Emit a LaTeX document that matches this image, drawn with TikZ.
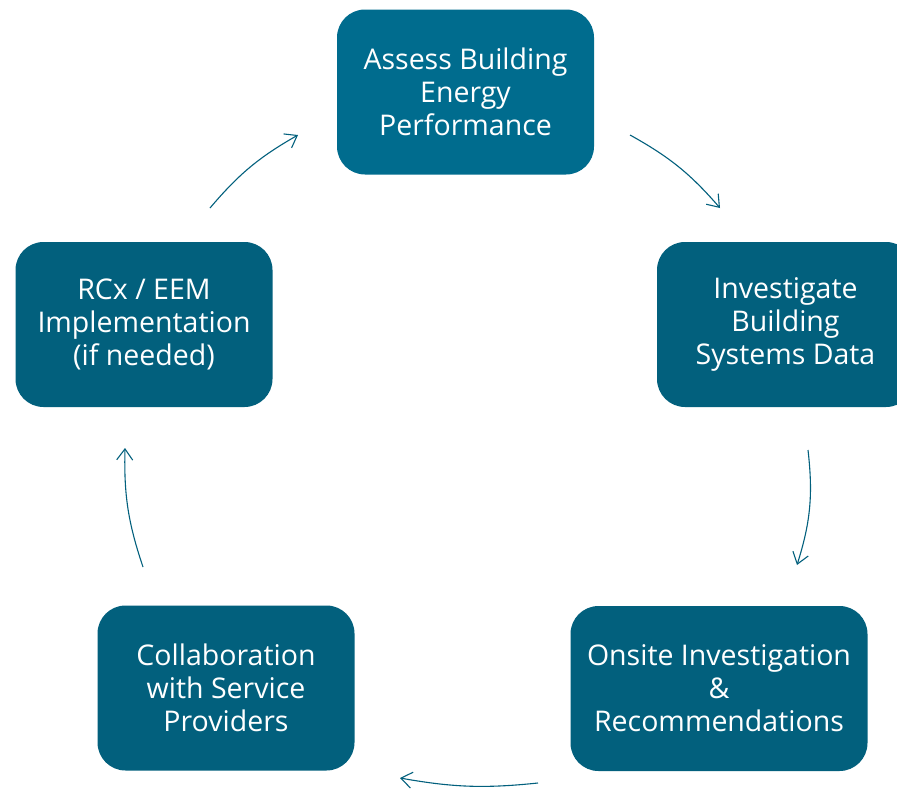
\documentclass[tikz,border=0pt]{standalone}
\usepackage{fontspec}
\setmainfont{Open Sans}
\usetikzlibrary{arrows.meta}
\definecolor{tealtop}{HTML}{006C8E}
\definecolor{tealbox}{HTML}{02607D}
\begin{document}
\begin{tikzpicture}[x=1pt, y=-1pt,
		stagebox/.style={fill=tealbox, rounded corners=28pt, minimum width=257pt, minimum height=165pt,
			inner sep=0pt, text=white, align=center, font=\fontsize{28.5}{33}\selectfont},
		cyclearrow/.style={draw=tealbox, line width=1.1pt, -{Straight Barb[length=11pt,width=16pt]}}]
		\clip (0, 0) rectangle (897, 790);
		\fill[white] (0, 0) rectangle (897, 790);
		% the five stages
		\node[stagebox, fill=tealtop] (assess) at (465.5, 92) {Assess Building\\Energy\\Performance};
		\node[stagebox] (investigate) at (785.5, 324.5) {Investigate\\Building\\Systems Data};
		\node[stagebox, minimum width=297pt] (onsite) at (719, 688.5) {Onsite Investigation\\\&\\Recommendations};
		\node[stagebox] (collab) at (226, 688) {Collaboration\\with Service\\Providers};
		\node[stagebox] (rcx) at (144, 324.5) {RCx / EEM\\Implementation\\(if needed)};
		% arrow ends
		\coordinate (a1) at (630, 135); \coordinate (b1) at (720, 208);
		\coordinate (a2) at (808, 450); \coordinate (b2) at (797, 565);
		\coordinate (a3) at (538, 783); \coordinate (b3) at (400, 778);
		\coordinate (a4) at (143, 567); \coordinate (b4) at (125, 448);
		\coordinate (a5) at (210, 208); \coordinate (b5) at (298, 135);
		\draw[cyclearrow] (a1) to[bend left=10] (b1);
		\draw[cyclearrow] (a2) to[bend left=12] (b2);
		\draw[cyclearrow] (a3) to[bend left=8] (b3);
		\draw[cyclearrow] (a4) to[bend left=10] (b4);
		\draw[cyclearrow] (a5) to[bend left=10] (b5);
	\end{tikzpicture}
\end{document}
